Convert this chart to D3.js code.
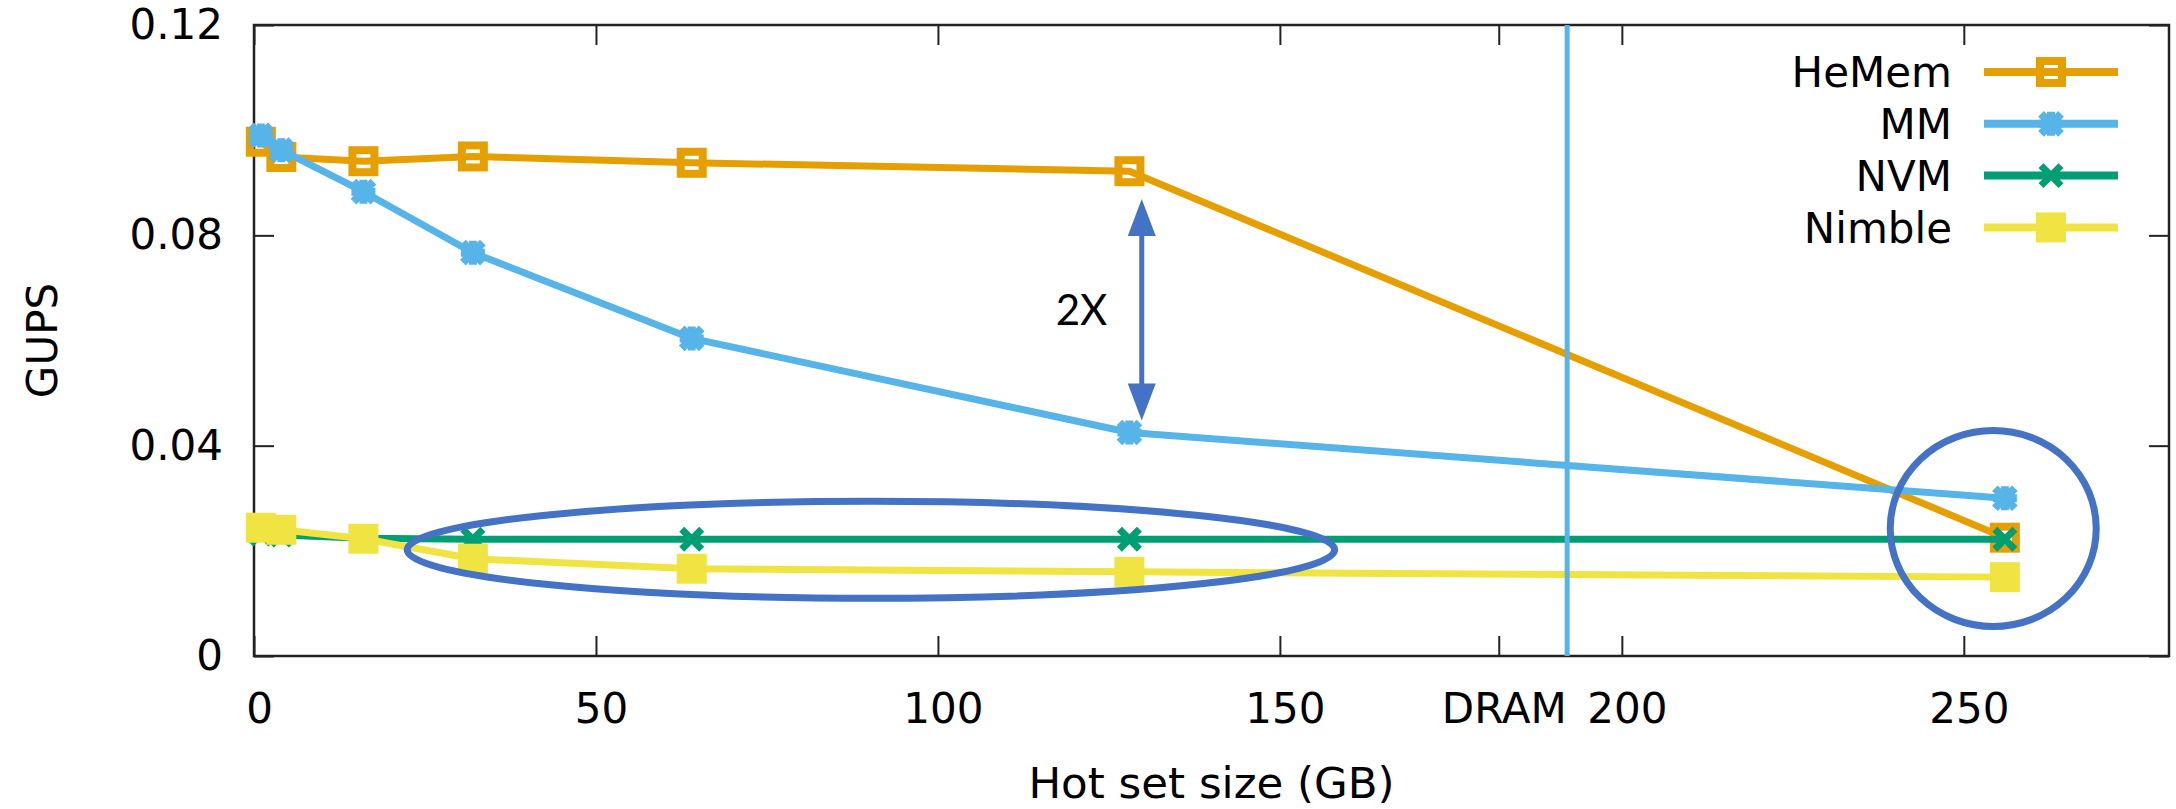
<!DOCTYPE html>
<html>
<head>
<meta charset="utf-8">
<script src="https://cdn.jsdelivr.net/npm/d3@7"></script>
<style>
  body { margin: 0; background: #fff; }
  svg { display: block; }
  text { font-family: "DejaVu Sans", sans-serif; }
</style>
</head>
<body>
<div id="chart"></div>
<script>
/* Data */
var hotSet = [1, 4, 16, 32, 64, 128, 256];
var hemem  = [0.0978, 0.0949, 0.0941, 0.0950, 0.0938, 0.0922, 0.0225];
var mm     = [0.0990, 0.0962, 0.0883, 0.0767, 0.0604, 0.0425, 0.0300];
var nvm    = [0.0232, 0.0230, 0.0224, 0.0222, 0.0222, 0.0222, 0.0222];
var nimble = [0.0244, 0.0240, 0.0223, 0.0185, 0.0166, 0.0160, 0.0150];

var seriesNames  = ["HeMem", "MM", "NVM", "Nimble"];
var seriesColors = ["#E69F00", "#56B4E9", "#009E73", "#F0E442"];
var seriesMarks  = ["openSquare", "star", "cross", "square"];

var xTicks = [0, 50, 100, 150, 182, 200, 250];
var yTicks = [0, 0.04, 0.08, 0.12];
var dramSize = 192;

/* Annotations drawn on top (data units) */
var ovals = [
  {cx: 90.2, cy: 0.0202, rx: 67.8, ry: 0.00922},
  {cx: 254.3, cy: 0.02425, rx: 15.06, ry: 0.01864}
];
var gapArrow = {x: 129.8, from: 0.0448, to: 0.0869, label: "2X", lx: 121, ly: 0.063};

/* Size and margins */
var margin = {top: 25, right: 7, bottom: 153, left: 254},
    totalW = 2176, totalH = 809,
    width = totalW - margin.left - margin.right,
    height = totalH - margin.top - margin.bottom,
    fontSize = 42;

var svg = d3.select("#chart").append("svg")
    .attr("width", totalW).attr("height", totalH);

var g = svg.append("g")
    .attr("transform", "translate(" + margin.left + "," + margin.top + ")");

var x = d3.scaleLinear().domain([0, 280]).range([0, width]);
var y = d3.scaleLinear().domain([0, 0.12]).range([height, 0]);

/* Axes, ticks point inwards like gnuplot */
function styleAxis(sel) {
    sel.select(".domain").remove();
    sel.selectAll(".tick line").attr("stroke", "#222").attr("stroke-width", 2);
    sel.selectAll("text")
        .attr("font-family", "DejaVu Sans")
        .attr("font-size", fontSize)
        .attr("fill", "#000");
}

var xAxis = g.append("g")
    .attr("transform", "translate(0," + height + ")")
    .call(d3.axisBottom(x).tickValues(xTicks).tickSize(-20).tickSizeOuter(0).tickPadding(37)
        .tickFormat(function(d) { return d === 182 ? "DRAM" : d; }))
    .call(styleAxis);
xAxis.selectAll("text").attr("dx", 5);

g.append("g")
    .call(d3.axisTop(x).tickValues(xTicks).tickSize(-20).tickSizeOuter(0).tickFormat(""))
    .call(styleAxis);

g.append("g")
    .call(d3.axisLeft(y).tickValues(yTicks).tickSize(-20).tickSizeOuter(0).tickPadding(31)
        .tickFormat(function(d) { return d === 0 ? "0" : d.toFixed(2); }))
    .call(styleAxis);

g.append("g")
    .attr("transform", "translate(" + width + ",0)")
    .call(d3.axisRight(y).tickValues(yTicks).tickSize(-20).tickSizeOuter(0).tickFormat(""))
    .call(styleAxis);

/* Plot border */
g.append("rect")
    .attr("width", width).attr("height", height)
    .attr("fill", "none").attr("stroke", "#222").attr("stroke-width", 2.5);

/* Axis titles */
svg.append("text")
    .attr("x", margin.left + width / 2)
    .attr("y", 798)
    .attr("text-anchor", "middle")
    .attr("font-size", 43.5)
    .text("Hot set size (GB)");

svg.append("text")
    .attr("transform", "translate(57," + (margin.top + height / 2) + ") rotate(-90)")
    .attr("text-anchor", "middle")
    .attr("font-size", fontSize)
    .text("GUPS");

/* Markers */
function drawMark(sel, type, color) {
    if (type === "openSquare") {
        sel.append("rect").attr("x", -11).attr("y", -11).attr("width", 22).attr("height", 22)
            .attr("fill", "none").attr("stroke", color).attr("stroke-width", 8);
    } else if (type === "square") {
        sel.append("rect").attr("x", -15).attr("y", -15).attr("width", 30).attr("height", 30)
            .attr("fill", color);
    } else if (type === "star") {
        sel.append("path").attr("d", "M-10,-10L10,10M-10,10L10,-10M-12,0L12,0M0,-12L0,12")
            .attr("stroke", color).attr("stroke-width", 8).attr("fill", "none");
        sel.append("rect").attr("x", -7).attr("y", -7).attr("width", 14).attr("height", 14)
            .attr("fill", color);
    } else {
        sel.append("path").attr("d", "M-10,-10L10,10M-10,10L10,-10")
            .attr("stroke", color).attr("stroke-width", 7).attr("fill", "none");
    }
}

var allValues = [hemem, mm, nvm, nimble];
var line = d3.line()
    .x(function(d) { return x(d[0]); })
    .y(function(d) { return y(d[1]); });

allValues.forEach(function(vals, i) {
    var pts = hotSet.map(function(h, j) { return [h, vals[j]]; });
    var sg = g.append("g").attr("class", "series");
    sg.append("path")
        .datum(pts)
        .attr("d", line)
        .attr("fill", "none")
        .attr("stroke", seriesColors[i])
        .attr("stroke-width", 7)
        .attr("stroke-linejoin", "round");
    sg.selectAll("g.pt")
        .data(pts)
        .enter().append("g")
        .attr("class", "pt")
        .attr("transform", function(d) { return "translate(" + x(d[0]) + "," + y(d[1]) + ")"; })
        .each(function() { drawMark(d3.select(this), seriesMarks[i], seriesColors[i]); });
});

/* DRAM capacity line */
g.append("line")
    .attr("x1", x(dramSize)).attr("x2", x(dramSize))
    .attr("y1", 0).attr("y2", height)
    .attr("stroke", "#56B4E9").attr("stroke-width", 5);

/* Legend */
var legend = g.append("g")
    .attr("transform", "translate(" + (1952 - margin.left) + "," + (72 - margin.top) + ")");

var item = legend.selectAll("g")
    .data(seriesNames)
    .enter().append("g")
    .attr("transform", function(d, i) { return "translate(0," + i * 51.8 + ")"; });

item.append("text")
    .attr("text-anchor", "end")
    .attr("dy", "0.36em")
    .attr("font-size", fontSize)
    .text(function(d) { return d; });

item.append("line")
    .attr("x1", 32).attr("x2", 166)
    .attr("stroke", function(d, i) { return seriesColors[i]; })
    .attr("stroke-width", 8);

item.append("g")
    .attr("transform", "translate(99,0)")
    .each(function(d, i) { drawMark(d3.select(this), seriesMarks[i], seriesColors[i]); });

/* Annotations */
var blue = "#4472C4";
g.selectAll("ellipse.note")
    .data(ovals)
    .enter().append("ellipse")
    .attr("class", "note")
    .attr("cx", function(d) { return x(d.cx); })
    .attr("cy", function(d) { return y(d.cy); })
    .attr("rx", function(d) { return x(d.rx) - x(0); })
    .attr("ry", function(d) { return y(0) - y(d.ry); })
    .attr("fill", "none")
    .attr("stroke", blue)
    .attr("stroke-width", 7);

var ax = x(gapArrow.x), aTop = y(gapArrow.to), aBot = y(gapArrow.from),
    headLen = 37, headHalf = 14;
g.append("line")
    .attr("x1", ax).attr("x2", ax)
    .attr("y1", aTop + headLen - 2).attr("y2", aBot - headLen + 2)
    .attr("stroke", blue).attr("stroke-width", 5);
g.append("path")
    .attr("d", "M" + ax + "," + aTop + "L" + (ax + headHalf) + "," + (aTop + headLen) +
               "L" + (ax - headHalf) + "," + (aTop + headLen) + "Z")
    .attr("fill", blue);
g.append("path")
    .attr("d", "M" + ax + "," + aBot + "L" + (ax + headHalf) + "," + (aBot - headLen) +
               "L" + (ax - headHalf) + "," + (aBot - headLen) + "Z")
    .attr("fill", blue);

g.append("text")
    .attr("x", x(gapArrow.lx))
    .attr("y", y(gapArrow.ly))
    .attr("text-anchor", "middle")
    .style("font-family", "Lato, 'Liberation Sans', sans-serif")
    .attr("font-size", 42)
    .text(gapArrow.label);
</script>
</body>
</html>
